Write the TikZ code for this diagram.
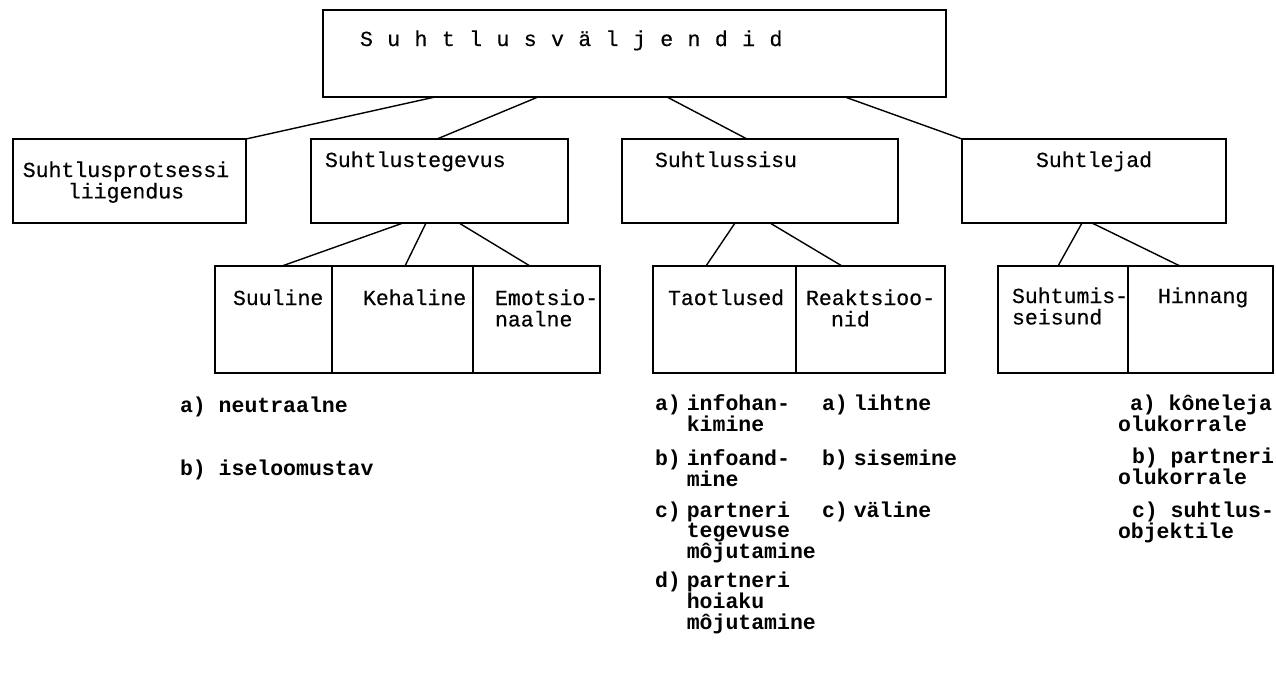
\documentclass[tikz,border=0pt]{standalone}
\usepackage{fontspec}
\usetikzlibrary{calc}
% typewriter faces: a slightly heavier regular for box labels, bold for the lists
\newfontfamily\tw{Liberation Mono}[FakeBold=0.4]
\newfontfamily\tb{Liberation Mono}
\newcommand\labfont{\tw\fontsize{21.5}{19.5}\selectfont}
\newcommand\listfont{\tb\bfseries\fontsize{21.5}{19.5}\selectfont}
\newcommand\lnblock[1]{\begin{tabular}[t]{@{}l@{}}#1\end{tabular}}
\newcommand\clnblock[1]{\begin{tabular}[t]{@{}c@{}}#1\end{tabular}}
\newcommand\entry[1]{\begin{tabular}[t]{@{}l@{\hspace{6pt}}l@{}}#1\end{tabular}}
\newcommand\widespaced[1]{\spaceskip=14.4pt\relax #1}
\begin{document}
\begin{tikzpicture}[x=1pt, y=-1pt,
  box/.style={draw, rectangle, line width=1.6pt, inner sep=0pt, outer sep=0pt,
              anchor=north west},
  lab/.style={anchor=base west, inner sep=0pt, outer sep=0pt, font=\labfont},
  clab/.style={anchor=base, inner sep=0pt, outer sep=0pt, font=\labfont},
  lst/.style={anchor=base west, inner sep=0pt, outer sep=0pt, font=\listfont},
  link/.style={line width=1.4pt}]
\useasboundingbox (0,0) rectangle (1276,673);

% top box
\node[box, minimum width=623pt, minimum height=87pt] (top) at (323,10) {};
\node[lab] (title) at (360,46) {\widespaced{S u h t l u s v ä l j e n d i d}};

% second row
\node[box, minimum width=233pt, minimum height=84pt] (p1) at (13,139) {};
\node[box, minimum width=257pt, minimum height=84pt] (p2) at (311,139) {};
\node[box, minimum width=276pt, minimum height=84pt] (p3) at (622,139) {};
\node[box, minimum width=264pt, minimum height=84pt] (p4) at (962,139) {};

\node[clab] (p1t) at (126,177) {\clnblock{Suhtlusprotsessi\\liigendus}};
\node[lab] (p2t) at (325,167) {Suhtlustegevus};
\node[lab] (p3t) at (655,167) {Suhtlussisu};
\node[lab] (p4t) at (1036,167) {Suhtlejad};

% third row
\node[box, minimum width=117pt, minimum height=107pt] (s1) at (215,266) {};
\node[box, minimum width=141pt, minimum height=107pt] (s2) at (332,266) {};
\node[box, minimum width=127pt, minimum height=107pt] (s3) at (473,266) {};
\node[box, minimum width=143pt, minimum height=107pt] (t1) at (653,266) {};
\node[box, minimum width=149pt, minimum height=107pt] (t2) at (796,266) {};
\node[box, minimum width=130pt, minimum height=107pt] (u1) at (998,266) {};
\node[box, minimum width=145pt, minimum height=107pt] (u2) at (1128,266) {};

\node[lab] (s1t) at (233,305) {Suuline};
\node[lab] (s2t) at (363,305) {Kehaline};
\node[lab] (s3t) at (495,305) {\lnblock{Emotsio-\\naalne}};
\node[lab] (t1t) at (668,305) {Taotlused};
\node[lab] (t2t) at (806,305) {\lnblock{Reaktsioo-\\\hspace{25pt}nid}};
\node[lab] (u1t) at (1012,303) {\lnblock{Suhtumis-\\seisund}};
\node[lab] (u2t) at (1158,303) {Hinnang};

% connectors
\draw[link] ($(top.south west)+(112,0)$) -- (p1.north east);
\draw[link] ($(top.south west)+(215,0)$) -- ($(p2.north west)+(126,0)$);
\draw[link] ($(top.south west)+(344,0)$) -- ($(p3.north west)+(125,0)$);
\draw[link] ($(top.south west)+(522,0)$) -- (p4.north west);

\draw[link] ($(p2.south west)+(92,0)$) -- ($(s1.north west)+(67,0)$);
\draw[link] ($(p2.south west)+(115,0)$) -- ($(s2.north west)+(73,0)$);
\draw[link] ($(p2.south west)+(148,0)$) -- ($(s3.north west)+(57,0)$);
\draw[link] ($(p3.south west)+(113,0)$) -- ($(t1.north west)+(53,0)$);
\draw[link] ($(p3.south west)+(148,0)$) -- ($(t2.north west)+(46,0)$);
\draw[link] ($(p4.south west)+(120,0)$) -- ($(u1.north west)+(60,0)$);
\draw[link] ($(p4.south west)+(130,0)$) -- ($(u2.north west)+(52,0)$);

% lists
\node[lst] (n1) at (180,412) {a) neutraalne};
\node[lst] (n2) at (180,475) {b) iseloomustav};

\node[lst] (ta) at (655,410) {\entry{a) & infohan-\\ & kimine}};
\node[lst] (tb) at (655,465) {\entry{b) & infoand-\\ & mine}};
\node[lst] (tc) at (655,517) {\entry{c) & partneri\\ & tegevuse\\ & môjutamine}};
\node[lst] (td) at (655,587) {\entry{d) & partneri\\ & hoiaku\\ & môjutamine}};

\node[lst] (ra) at (822,410) {\entry{a) & lihtne}};
\node[lst] (rb) at (822,465) {\entry{b) & sisemine}};
\node[lst] (rc) at (822,517) {\entry{c) & väline}};

\node[lst] (ha) at (1118,410) {\lnblock{\hspace{12pt}a) kôneleja\\olukorrale}};
\node[lst] (hb) at (1118,463) {\lnblock{\hspace{14pt}b) partneri\\olukorrale}};
\node[lst] (hc) at (1118,517) {\lnblock{\hspace{14pt}c) suhtlus-\\objektile}};
\end{tikzpicture}
\end{document}
